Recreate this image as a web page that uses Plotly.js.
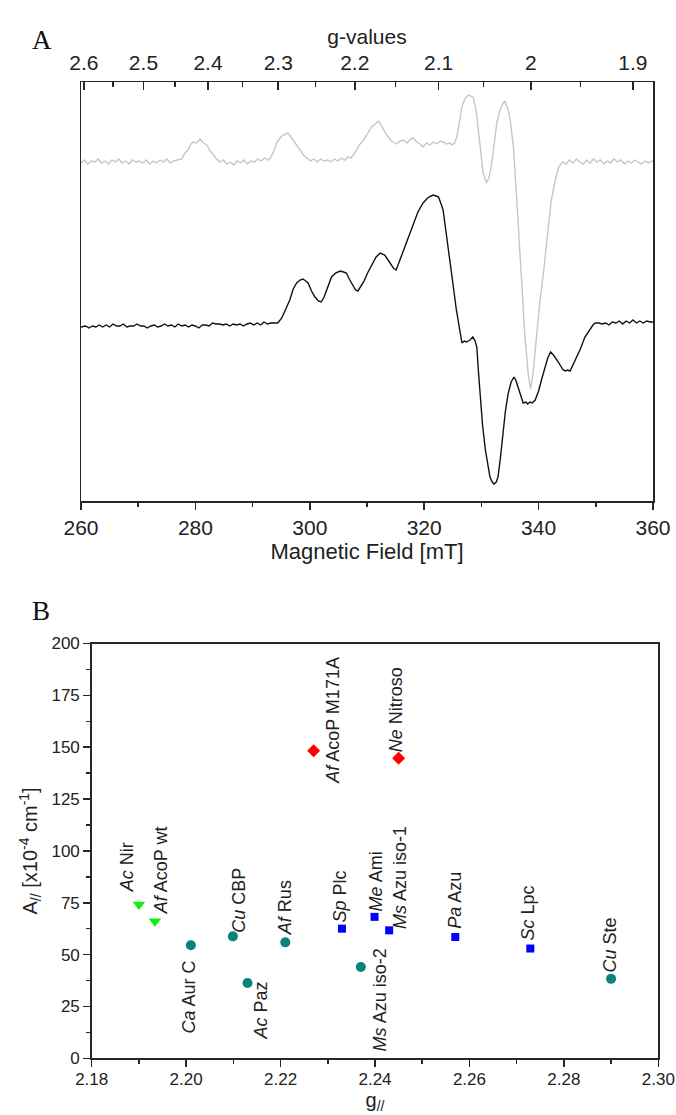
<!DOCTYPE html>
<html><head><meta charset="utf-8">
<script src="https://cdn.plot.ly/plotly-3.0.1.min.js"></script>
<style>html,body{margin:0;padding:0;background:#fff}#chart{width:676px;height:1115px}</style>
</head><body><div id="chart"></div><script>
// ---------- Panel A: EPR spectra (field in mT, intensity in arbitrary units) ----------
const fieldGray = [260.0,260.6,261.2,261.8,262.4,263.0,263.6,264.2,264.8,265.4,266.0,266.6,267.2,267.8,268.4,269.0,269.6,270.2,270.8,271.4,272.0,272.6,273.2,273.8,274.4,275.0,275.6,276.2,276.8,277.6,278.2,278.8,279.2,279.6,280.2,280.8,281.4,282.0,282.6,283.1,283.7,284.3,284.9,285.5,286.1,286.7,287.3,287.9,288.5,289.1,289.7,290.3,290.9,291.5,292.1,292.7,293.2,293.7,294.2,294.8,295.3,295.8,296.2,296.7,297.1,297.7,298.3,298.9,299.5,300.1,300.7,301.3,301.9,302.5,303.1,303.7,304.3,304.9,305.5,306.1,306.6,307.2,307.6,308.2,308.8,309.4,310.1,310.8,311.4,312.0,312.5,313.1,313.7,314.3,315.2,315.8,316.4,317.0,317.6,318.1,318.7,319.3,319.8,320.4,321.0,321.6,322.2,322.8,323.3,323.9,324.5,324.9,325.3,325.7,326.2,326.6,327.1,327.7,328.2,328.6,329.1,329.5,329.9,330.3,330.9,331.4,331.8,332.3,332.7,333.2,333.6,334.1,334.7,335.1,335.6,336.3,337.0,337.6,338.2,338.6,339.0,339.6,340.2,340.8,341.5,342.2,342.9,343.5,344.2,344.8,345.4,346.0,346.6,347.2,347.8,348.4,349.0,349.6,350.2,350.8,351.4,352.0,352.6,353.2,353.8,354.4,355.0,355.6,356.2,356.8,357.4,358.0,358.6,359.2,359.8,360.0];
const intGray = [338,341,337,340,339,342,338,340,337,341,339,342,338,340,337,341,339,340,338,341,337,340,338,341,339,342,338,340,341,342,348,352,357,359,358,362,358,356,350,346,342,339,341,337,339,336,340,338,341,337,340,339,342,340,343,341,344,350,358,363,366,367,368,364,361,356,351,346,343,340,342,339,342,340,341,339,342,340,343,341,344,343,346,352,357,361,368,374,377,380,376,369,364,360,357,360,361,358,362,363,359,357,354,358,356,359,357,360,359,357,358,356,358,364,380,394,402,406,405,403,390,371,348,328,318,325,338,360,378,390,396,400,391,378,354,290,222,165,126,112,126,163,198,226,265,300,321,334,339,337,341,338,342,339,337,341,338,342,339,341,337,340,338,342,339,341,337,340,338,341,339,337,340,338,340,339];
const fieldBlack = [260.0,260.8,261.4,262.0,262.6,263.2,263.8,264.4,265.0,265.6,266.2,266.8,267.4,268.0,268.6,269.2,269.8,270.4,271.0,271.6,272.2,272.8,273.4,274.0,274.6,275.2,275.8,276.4,277.0,277.6,278.2,278.8,279.4,280.0,280.6,281.2,281.8,282.4,283.0,283.6,284.2,284.8,285.4,286.0,286.6,287.2,287.8,288.4,289.0,289.6,290.2,290.8,291.4,292.0,292.6,293.2,293.8,294.4,295.1,295.8,296.5,297.1,297.7,298.3,298.8,299.3,299.7,300.3,300.9,301.5,302.0,302.5,303.0,303.4,303.8,304.5,305.3,305.9,306.4,307.0,307.6,308.0,308.4,308.9,309.4,310.1,310.8,311.6,312.3,312.7,313.1,313.8,314.6,315.1,315.7,316.4,317.2,318.1,318.9,319.8,320.6,321.2,321.6,322.1,322.5,322.9,323.3,323.7,324.2,324.6,325.1,325.6,326.0,326.3,326.6,327.0,327.4,328.0,328.5,328.9,329.2,329.5,329.8,330.2,330.7,331.1,331.5,331.9,332.2,332.6,332.9,333.3,333.8,334.2,334.7,335.2,335.7,336.0,336.4,336.8,337.3,337.8,338.1,338.5,338.9,339.4,340.0,340.5,341.1,341.6,342.1,342.6,343.2,343.8,344.3,344.7,345.1,345.5,346.0,346.7,347.3,348.1,348.9,349.5,349.9,350.5,351.1,351.7,352.3,352.9,353.5,354.1,354.7,355.3,355.9,356.5,357.1,357.7,358.3,358.9,359.5,360.0];
const intBlack = [174,175,173,175,174,176,174,176,174,177,175,175,177,174,175,175,177,175,175,173,175,176,174,175,177,175,176,174,177,175,176,174,176,175,173,176,176,175,178,177,177,176,177,175,177,176,177,175,177,178,176,178,176,179,177,178,178,178,183,192,201,212,218,221,222,220,218,210,204,200,199,204,211,218,224,228,230,229,228,221,214,211,210,214,219,228,236,244,248,247,246,240,233,231,240,251,264,278,289,298,303,305,306,305,304,298,291,274,254,233,214,192,178,166,158,160,159,161,164,160,154,128,101,76,51,35,24,19,17,19,24,42,68,90,108,119,124,121,114,106,98,99,97,99,98,101,110,121,134,143,149,146,141,136,131,130,131,130,136,144,152,164,171,176,178,178,177,178,176,179,178,180,177,180,178,181,178,180,178,180,179,179];
const gTickLabels = [2.6, 2.5, 2.4, 2.3, 2.2, 2.1, 2.0, 1.9];
const gMinorTicks = [2.55, 2.45, 2.35, 2.25, 2.15, 2.05, 1.95];
const fieldTimesG = 677.3; // B[mT] * g at the spectrometer frequency

// ---------- Panel B: g// vs A// ----------
const species  = ['Ac','Af','Ca','Cu','Ac','Af','Ms','Cu','Sp','Me','Ms','Pa','Sc','Af','Ne'];
const protein  = ['Nir','AcoP wt','Aur C','CBP','Paz','Rus','Azu iso-2','Ste','Plc','Ami','Azu iso-1','Azu','Lpc','AcoP M171A','Nitroso'];
const gPar     = [2.190,2.1934,2.201,2.2099,2.213,2.221,2.237,2.290,2.233,2.2399,2.243,2.257,2.2729,2.227,2.245];
const aPar     = [74.2,66.1,54.5,58.8,36.3,55.9,44.0,38.3,62.5,68.2,61.7,58.5,52.9,148.3,144.7];
const group    = ['tri','tri','circ','circ','circ','circ','circ','circ','sq','sq','sq','sq','sq','dia','dia'];

// label placement (pixels relative to marker) – styling only
const labelPlace = [
  [-12,12,'bottom'],[6,7,'bottom'],[-2,-15,'top'],[6,4,'bottom'],[13,1,'top'],[0,7,'bottom'],
  [19,19,'top'],[-1,6,'bottom'],[-2,6,'bottom'],[1,5,'bottom'],[11,1,'bottom'],[0,8,'bottom'],
  [-2,8,'bottom'],[20,-33,'bottom'],[-3,6,'bottom']
];

const FONT = 'Liberation Sans, Arial, sans-serif';
const AX = '#262626';
const groupStyle = {
  tri:  {symbol:'triangle-down', color:'#11ee11', size:11},
  circ: {symbol:'circle', color:'#0a8282', size:10},
  sq:   {symbol:'square', color:'#0000ff', size:8},
  dia:  {symbol:'diamond', color:'#ff0000', size:10}
};

const traces = [
  {x: fieldGray, y: intGray, xaxis:'x3', yaxis:'y', mode:'lines', line:{color:'#c6c6c6', width:1.4}, hoverinfo:'skip'},
  {x: fieldBlack, y: intBlack, xaxis:'x', yaxis:'y', mode:'lines', line:{color:'#111', width:1.4}, hoverinfo:'skip'}
];
['tri','circ','sq','dia'].forEach(function(gk){
  const idx = group.map((g,i)=>g===gk?i:-1).filter(i=>i>=0);
  const st = groupStyle[gk];
  traces.push({x: idx.map(i=>gPar[i]), y: idx.map(i=>aPar[i]), xaxis:'x2', yaxis:'y2', mode:'markers',
    marker:{symbol:st.symbol, color:st.color, size:st.size, line:{width:0}}, hoverinfo:'skip'});
});

const annotations = species.map(function(sp,i){
  const p = labelPlace[i];
  return {x:gPar[i], y:aPar[i], xref:'x2', yref:'y2', text:'<i>'+sp+'</i> '+protein[i], textangle:-90,
    showarrow:false, xanchor:'center', yanchor:p[2], xshift:p[0], yshift:p[1],
    font:{family:FONT, size:18, color:'#222'}, borderpad:0, borderwidth:0};
});
annotations.push({x:30/676, y:1-23/1115, xref:'paper', yref:'paper', text:'A', showarrow:false,
  font:{family:'Liberation Serif, Times New Roman, serif', size:27, color:'#111'}});
annotations.push({x:30/676, y:1-611/1115, xref:'paper', yref:'paper', text:'B', showarrow:false,
  font:{family:'Liberation Serif, Times New Roman, serif', size:27, color:'#111'}});

const common = {showgrid:false, zeroline:false, showline:true, linecolor:AX, linewidth:1.5, tickcolor:AX, tickwidth:1.5, automargin:false, fixedrange:true};

const layout = {
  width:676, height:1115, margin:{l:0,r:0,t:0,b:0}, paper_bgcolor:'#fff', plot_bgcolor:'rgba(0,0,0,0)',
  showlegend:false, font:{family:FONT, color:'#222'},
  xaxis: Object.assign({}, common, {domain:[81/676,653/676], range:[260,360], anchor:'y', tickmode:'linear', tick0:260, dtick:20,
    ticks:'outside', ticklen:7, tickfont:{size:21}, title:{text:'Magnetic Field [mT]', font:{size:22}, standoff:0},
    minor:{tickmode:'linear', tick0:260, dtick:10, ticks:'outside', ticklen:4, tickwidth:1.5, tickcolor:AX, showgrid:false}}),
  xaxis3: Object.assign({}, common, {overlaying:'x', side:'top', anchor:'y', range:[260,360], tickmode:'array',
    tickvals: gTickLabels.map(g=>fieldTimesG/g), ticktext: gTickLabels.map(g=>String(g)),
    ticks:'inside', ticklen:8, tickfont:{size:21}, ticklabelstandoff:2, title:{text:'g-values', font:{size:21}, standoff:0},
    minor:{tickmode:'array', tickvals: gMinorTicks.map(g=>fieldTimesG/g), ticks:'inside', ticklen:5, tickwidth:1.5, tickcolor:AX, showgrid:false}}),
  yaxis: Object.assign({}, common, {domain:[1-501/1115, 1-82/1115], range:[0,419], anchor:'x', mirror:true, ticks:'', showticklabels:false}),
  xaxis2: Object.assign({}, common, {domain:[91.7/676, 658.3/676], anchor:'y2', range:[2.18,2.30], tickmode:'linear', tick0:2.18, dtick:0.02,
    tickformat:'.2f', ticks:'outside', ticklen:7, mirror:true, tickfont:{size:17}, ticklabelstandoff:-2,
    title:{text:'g<sub>//</sub>', font:{size:20}, standoff:3},
    minor:{tickmode:'linear', tick0:2.18, dtick:0.01, ticks:'outside', ticklen:4, tickwidth:1.5, tickcolor:AX, showgrid:false}}),
  yaxis2: Object.assign({}, common, {domain:[1-1058.3/1115, 1-643.5/1115], anchor:'x2', range:[0,200], tickmode:'linear', tick0:0, dtick:25,
    ticks:'outside', ticklen:7, mirror:true, tickfont:{size:17},
    title:{text:'A<sub>//</sub> [x10<sup>-4</sup> cm<sup>-1</sup>]', font:{size:20}, standoff:8},
    minor:{tickmode:'linear', tick0:0, dtick:12.5, ticks:'outside', ticklen:4, tickwidth:1.5, tickcolor:AX, showgrid:false}}),
  annotations: annotations
};

Plotly.newPlot('chart', traces, layout, {staticPlot:true, displayModeBar:false});
</script></body></html>
